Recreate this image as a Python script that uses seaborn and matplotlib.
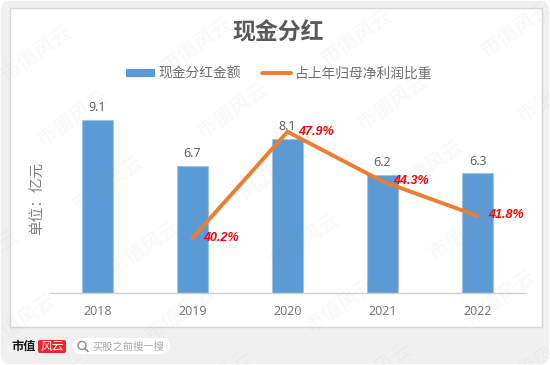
import numpy as np
import pandas as pd
import matplotlib
matplotlib.use('Agg')
import matplotlib.pyplot as plt
import seaborn as sns
from matplotlib.lines import Line2D
from matplotlib.patches import Patch, FancyBboxPatch, Rectangle, Circle

# 현금배당 데이터
years = [2018, 2019, 2020, 2021, 2022]
dividend = [9.1, 6.7, 8.1, 6.2, 6.3]
ratio = [np.nan, 40.2, 47.9, 44.3, 41.8]
ratio_labels = ['', '40.2%', '47.9%', '44.3%', '41.8%']
title = '现金分红'
bar_name = '现金分红金额'
line_name = '占上年归母净利润比重'
unit = '单位：亿元'
watermark = '市值风云'

sns.set_style('white')
plt.rcParams['font.family'] = ['Noto Sans CJK SC', 'DejaVu Sans']

df = pd.DataFrame({'year': years, 'dividend': dividend, 'ratio': ratio})

W, H = 550, 365
fig = plt.figure(figsize=(W / 100, H / 100), dpi=100, facecolor='white')

# 배경 (픽셀 좌표)
bg = fig.add_axes([0, 0, 1, 1], zorder=0)
bg.set_xlim(0, W)
bg.set_ylim(H, 0)
bg.axis('off')
bg.add_patch(FancyBboxPatch((3, 3), W - 6, H - 6, boxstyle='round,pad=0,rounding_size=7',
                            fc='#f0f0f0', ec='#f0f0f0', lw=3))
bg.add_patch(Rectangle((9.5, 8), 532, 319, fc='white', ec='#d6d6d6', lw=1))

# 하단 로고, 검색창
bg.text(11, 346.5, '市值', fontsize=8.8, fontweight='bold', color='#1a1a1a', va='center', ha='left')
bg.add_patch(FancyBboxPatch((38, 340), 28, 13, boxstyle='round,pad=0,rounding_size=2', fc='#f5222d', ec='none'))
bg.text(52, 346.5, '风云', fontsize=8.5, color='white', style='italic', va='center', ha='center')
bg.add_patch(FancyBboxPatch((73, 338), 97, 16, boxstyle='round,pad=0,rounding_size=8', fc='white', ec='none'))
bg.add_patch(Circle((82, 345.5), 4, fc='none', ec='#8c8c8c', lw=1))
bg.plot([85, 88], [348.5, 351.5], color='#8c8c8c', lw=1.2)
bg.text(92, 346.5, '买股之前搜一搜', fontsize=7.4, color='#a6a6a6', va='center', ha='left')

# 막대 + 꺾은선
ax = fig.add_axes([50 / W, 1 - 292.5 / H, 475 / W, 192.5 / H], zorder=1)
ax.patch.set_alpha(0)
sns.barplot(data=df, x='year', y='dividend', native_scale=True, width=0.316, color='#5b9bd5',
            saturation=1, edgecolor='#9dc3e6', linewidth=0.8, ax=ax)
ax.set_xlim(2017.5, 2022.5)
ax.set_ylim(0, 10.18)
ax.set_xticks(years)
ax.set_xticklabels([str(y) for y in years], fontsize=9, color='#6f6f6f', fontfamily='Open Sans')
ax.set_xlabel('')
ax.set_ylabel('')
ax.set_yticks([])
ax.tick_params(axis='x', length=0, pad=9)
sns.despine(ax=ax, left=True)
ax.spines['bottom'].set_color('#d0d0d0')
ax.spines['bottom'].set_linewidth(1)

for y, v, dy in zip(years, dividend, [4.5, 4, 4.5, 4.5, 4]):
    ax.annotate(f'{v}', (y, v), xytext=(0, dy), textcoords='offset points', ha='center', va='bottom',
                fontsize=9, color='#595959', fontfamily='Open Sans')

ax2 = ax.twinx()
ax2.patch.set_alpha(0)
sns.lineplot(data=df, x='year', y='ratio', color='#ed7d31', linewidth=2.8, ax=ax2, legend=False)
ax2.set_ylim(36.25, 50.2)
ax2.set_yticks([])
ax2.set_ylabel('')
ax2.set_xlabel('')
for s in ax2.spines.values():
    s.set_visible(False)
for y, v, s, off in zip(years, ratio, ratio_labels, [(0, 0), (8, 0), (8, 0), (8, 0), (8, 0.5)]):
    if s:
        ax2.annotate(s, (y, v), xytext=off, textcoords='offset points', ha='left', va='center', fontsize=9,
                     color='#ff0000', fontweight='bold', style='italic', fontfamily='Liberation Sans')

# 제목, 단위, 범례
fig.text(278 / W, 1 - 33 / H, title, fontsize=16.5, fontweight='bold', color='#595959', ha='center', va='center')
fig.text(37 / W, 1 - 198 / H, unit, fontsize=10.5, color='#7f7f7f', rotation=90, ha='center', va='center')

handles = [Patch(facecolor='#5b9bd5', edgecolor='none'),
           Line2D([0], [0], color='#ed7d31', lw=2.8)]
fig.legend(handles, [bar_name, line_name], loc='center', bbox_to_anchor=(279 / W, 1 - 74 / H), ncols=2, frameon=False,
           fontsize=9.9, labelcolor='#6f6f6f', handlelength=2.1, handleheight=0.55, handletextpad=0.3, columnspacing=1.5)

# 워터마크
wm = fig.add_axes([0, 0, 1, 1], zorder=5)
wm.set_xlim(0, W)
wm.set_ylim(H, 0)
wm.axis('off')
for i in range(-2, 5):
    for j in range(0, 6):
        x = 37 + 160 * i + 36 * j
        y = 54 - 8 * i + 65 * j
        if -40 < x < W + 40 and -30 < y < H + 30:
            wm.text(x, y, watermark, fontsize=14.5, color='#808080', alpha=0.055, rotation=35,
                    ha='center', va='center', clip_on=True)

fig.savefig('out.png', dpi=100)
